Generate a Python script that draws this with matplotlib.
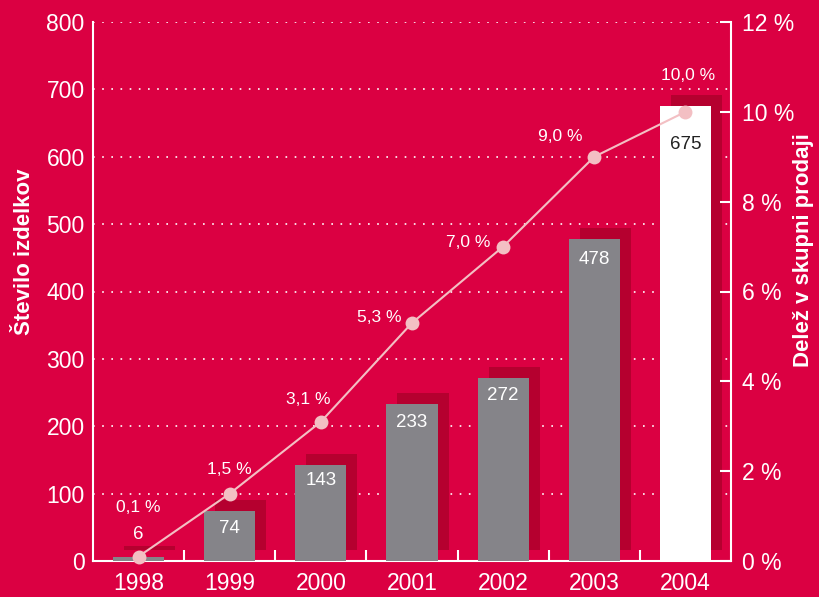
import numpy as np
import matplotlib
matplotlib.use("Agg")
from matplotlib import pyplot as plt
from matplotlib import transforms

# data
years = ["1998", "1999", "2000", "2001", "2002", "2003", "2004"]
units = [6, 74, 143, 233, 272, 478, 675]
share = [0.1, 1.5, 3.1, 5.3, 7.0, 9.0, 10.0]
share_labels = ["0,1 %", "1,5 %", "3,1 %", "5,3 %", "7,0 %", "9,0 %", "10,0 %"]
left_ticks = [0, 100, 200, 300, 400, 500, 600, 700, 800]
right_ticks = [0, 2, 4, 6, 8, 10, 12]

# layout: pixel offsets of the labels
share_offsets = [(0, 49), (0, 24), (-13, 22), (-33, 5), (-35, 4), (-34, 20), (3, 36)]
value_offsets = [22, -17, -16, -18, -18, -21, -38]

BG = "#DB0042"
SHADOW = "#B5002F"
GREY = "#858489"
PINK = "#F3BFC3"
WHITE = "white"

plt.rcParams["font.family"] = ["Liberation Sans", "DejaVu Sans"]

dpi = 100
fig = plt.figure(figsize=(8.2, 5.97), dpi=dpi, facecolor=BG)
ax = fig.add_axes([93 / 820, 36 / 597, 638 / 820, 539 / 597])
ax.set_facecolor(BG)

x = np.arange(len(years))
width = 0.56

# shadow bars, shifted right and up by a few pixels
shift = transforms.ScaledTranslation(11 / dpi, 11 / dpi, fig.dpi_scale_trans)
ax.bar(x, units, width, color=SHADOW, zorder=2, transform=ax.transData + shift)

colors = [GREY] * (len(years) - 1) + [WHITE]
ax.bar(x, units, width, color=colors, zorder=3)

for xi, v, dy, c in zip(x, units, value_offsets, colors):
    col = "#222222" if c == WHITE else WHITE
    ax.annotate(str(v), (xi, v), xytext=(0, dy), textcoords="offset pixels",
                ha="center", va="center", color=col, fontsize=13.5, zorder=5)

ax.set_xlim(-0.5, len(years) - 0.5)
ax.set_ylim(0, 800)
ax.set_yticks(left_ticks)
ax.set_xticks(x)
ax.set_xticklabels(years)
ax.set_xticks(x[:-1] + 0.5, minor=True)

for y in left_ticks:
    ax.axhline(y, color=WHITE, lw=1.2, ls=(0, (1, 4.5)), zorder=1)

for s in ["top", "right"]:
    ax.spines[s].set_visible(False)
ax.spines["left"].set_color(WHITE)
ax.spines["bottom"].set_color(WHITE)
ax.spines["left"].set_linewidth(1.5)
ax.spines["bottom"].set_linewidth(1.5)
ax.tick_params(axis="y", length=0, pad=6, labelsize=16.5, labelcolor=WHITE)
ax.tick_params(axis="x", which="major", length=0, pad=8, labelsize=16.5, labelcolor=WHITE)
ax.tick_params(axis="x", which="minor", direction="in", length=8, width=1.5, color=WHITE)

# right axis for share of sales
ax2 = ax.twinx()
ax2.set_ylim(0, 12)
ax2.set_yticks(right_ticks)
ax2.set_yticklabels([f"{t} %" for t in right_ticks])
for s in ["top", "left", "bottom"]:
    ax2.spines[s].set_visible(False)
ax2.spines["right"].set_color(WHITE)
ax2.spines["right"].set_linewidth(1.5)
ax2.tick_params(axis="y", direction="in", length=8, width=1.5, color=WHITE,
                pad=8, labelsize=16.5, labelcolor=WHITE)

ax2.plot(x, share, color=PINK, lw=1.5, marker="o", markersize=10,
         markeredgewidth=0, zorder=6, clip_on=False)
for xi, s, lab, off in zip(x, share, share_labels, share_offsets):
    ax2.annotate(lab, (xi, s), xytext=off, textcoords="offset pixels",
                 ha="center", va="center", color=WHITE, fontsize=12.5, zorder=7)

fig.text(25 / 820, 1 - 252 / 597, "Število izdelkov", rotation=90, ha="center",
         va="center", color=WHITE, fontsize=16, fontweight="bold")
fig.text(804 / 820, 1 - 250 / 597, "Delež v skupni prodaji", rotation=90, ha="center",
         va="center", color=WHITE, fontsize=16, fontweight="bold")

fig.savefig("out.png", dpi=dpi, facecolor=BG)
plt.close(fig)
